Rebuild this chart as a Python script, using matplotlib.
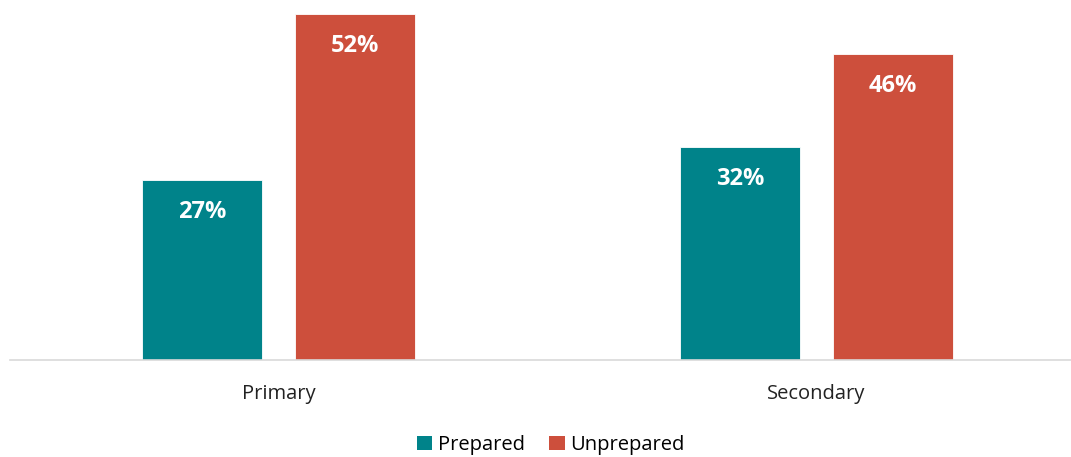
import matplotlib
matplotlib.use("Agg")
import matplotlib.pyplot as plt
from matplotlib.patches import Patch
import numpy as np

plt.rcParams['font.family'] = ['Open Sans', 'DejaVu Sans']

categories = ["Primary", "Secondary"]
prepared = [27, 32]
unprepared = [52, 46]
series_names = ["Prepared", "Unprepared"]
colors = ["#00838A", "#CD4F3C"]

W, H = 1071, 457
fig = plt.figure(figsize=(W / 100, H / 100), dpi=100)
ax = fig.add_axes([10 / W, 1 - 360 / H, (W - 10) / W, 360 / H])

x = np.arange(len(categories))
bw = 0.223
off = 0.142
for vals, sign, col in [(prepared, -1, colors[0]), (unprepared, 1, colors[1])]:
    bars = ax.bar(x + sign * off, vals, width=bw, color=col,
                  edgecolor="white", linewidth=0.6, zorder=2)
    for b, v in zip(bars, vals):
        ax.annotate(f"{v}%", (b.get_x() + b.get_width() / 2, v),
                    xytext=(0, -32), textcoords="offset pixels",
                    ha="center", va="center", color="white",
                    fontsize=17, fontweight="bold")

ax.set_xlim(-0.499, 1.473)
ax.set_ylim(0, 360 / 6.654)
for s in ["top", "right", "left"]:
    ax.spines[s].set_visible(False)
ax.spines["bottom"].set_color("#D9D9D9")
ax.spines["bottom"].set_linewidth(1.2)
ax.set_yticks([])
ax.set_xticks(x)
ax.set_xticklabels(categories, fontsize=14.5, color="#222222")
ax.tick_params(axis="x", length=0, pad=17)

handles = [Patch(facecolor=c, label=n) for c, n in zip(colors, series_names)]
fig.legend(handles=handles, loc="center", bbox_to_anchor=(551 / W, 1 - 445 / H),
           ncol=2, frameon=False, fontsize=14.5, handlelength=0.75,
           handleheight=0.75, handletextpad=0.3, columnspacing=1.2)

fig.savefig("out.png", dpi=100)
